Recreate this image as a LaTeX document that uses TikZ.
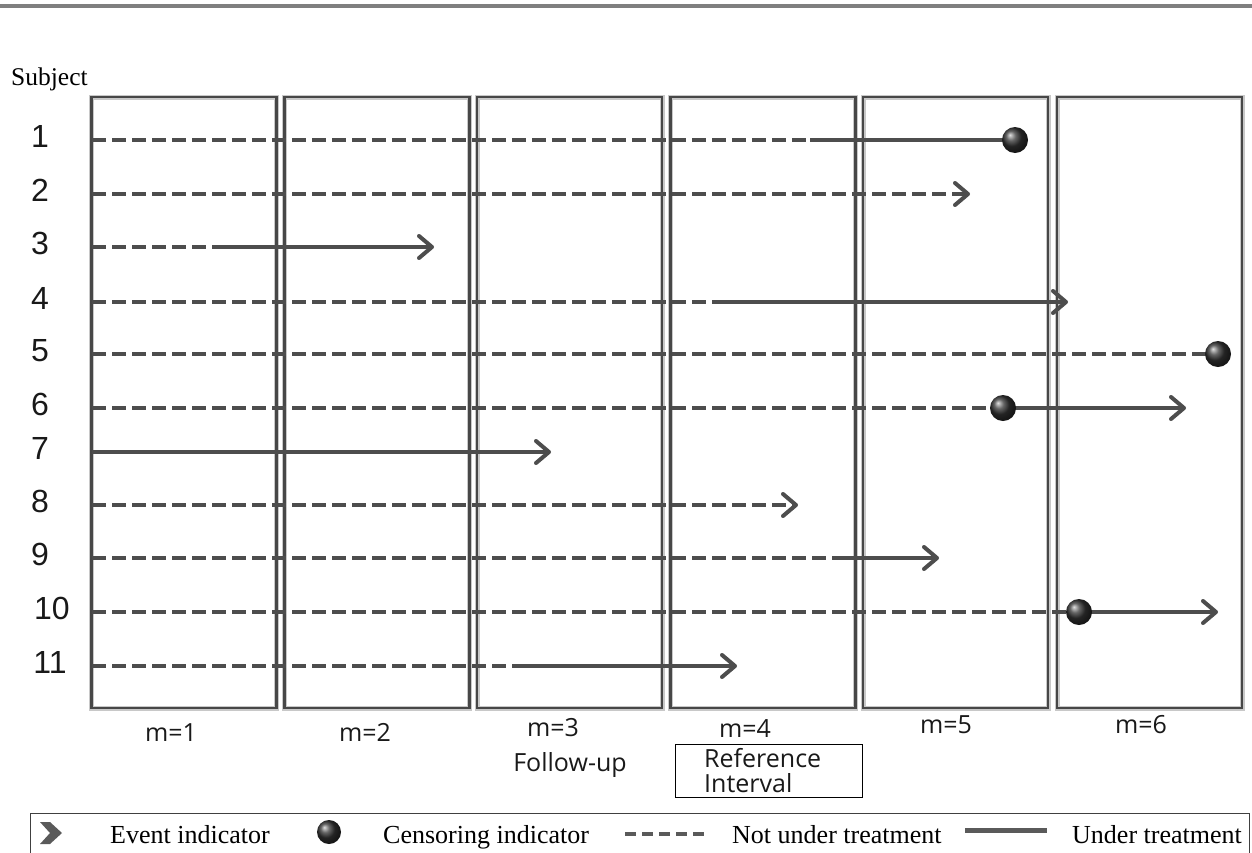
\documentclass[tikz,border=0pt]{standalone}
\usepackage{fontspec}
\setmainfont{Liberation Serif}
\newfontfamily\numfont{Liberation Sans}
\newfontfamily\lblfont{Open Sans}
\usetikzlibrary{arrows.meta}
\definecolor{linec}{HTML}{4D4D4D}
\definecolor{panelc}{HTML}{474747}
\definecolor{haloc}{HTML}{C8C8C8}
\definecolor{topbar}{HTML}{7F7F7F}
\definecolor{legc}{HTML}{5A5A5A}
\begin{document}
\begin{tikzpicture}[x=1pt,y=-1pt,
  panelbox/.style={draw=panelc, line width=2.5pt, preaction={draw=haloc, line width=5pt},
    minimum width=185pt, minimum height=611pt, inner sep=0pt},
  notx/.style={draw=linec, line width=4pt, dash pattern=on 14pt off 6pt},
  undertx/.style={draw=linec, line width=4pt},
  evt/.style={-{Straight Barb[length=13pt,width=22pt,round]}},
  ball/.style={circle, minimum size=26pt, inner sep=0pt, shading=ball, ball color=black!80},
  rownum/.style={font=\numfont\fontsize{32}{32}\selectfont, anchor=base, inner sep=0pt, text=black!90},
  mlabel/.style={font=\lblfont\fontsize{25}{25}\selectfont, anchor=base, inner sep=0pt, text=black!90},
  legtext/.style={font=\fontsize{26}{26}\selectfont, anchor=base west, inner sep=0pt},
]
\useasboundingbox (0,0) rectangle (1252,852);
\fill[topbar] (0,4) rectangle (1252,8);

% subject heading
\node[font=\fontsize{25.5}{25.5}\selectfont, anchor=base west, inner sep=0pt] (subj) at (11,85) {Subject};

% panels
\node[panelbox] (p1) at (184,402.5) {};
\node[panelbox] (p2) at (377,402.5) {};
\node[panelbox] (p3) at (569.5,402.5) {};
\node[panelbox] (p4) at (763,402.5) {};
\node[panelbox] (p5) at (955.5,402.5) {};
\node[panelbox] (p6) at (1149.5,402.5) {};

% row numbers
\node[rownum] (n1) at (40,147) {1};
\node[rownum] (n2) at (40,201) {2};
\node[rownum] (n3) at (40,254) {3};
\node[rownum] (n4) at (40,309) {4};
\node[rownum] (n5) at (40,361) {5};
\node[rownum] (n6) at (40,415) {6};
\node[rownum] (n7) at (40,459) {7};
\node[rownum] (n8) at (40,512) {8};
\node[rownum] (n9) at (40,565) {9};
\node[rownum] (n10) at (52,619) {10};
\node[rownum] (n11) at (50,673) {11};

% row coordinates
\coordinate (a1) at (92,140);  \coordinate (b1) at (810,140); \coordinate (c1p) at (1015,140);
\coordinate (a2) at (92,194);  \coordinate (e2) at (970,194);
\coordinate (a3) at (92,247);  \coordinate (b3) at (222,247); \coordinate (e3) at (434,247);
\coordinate (a4) at (92,302);  \coordinate (b4) at (725,302); \coordinate (e4) at (1068,302);
\coordinate (a5) at (92,354);  \coordinate (c5p) at (1218,354);
\coordinate (a6) at (92,408);  \coordinate (c6p) at (1003,408); \coordinate (e6) at (1186,408);
\coordinate (a7) at (92,452);  \coordinate (e7) at (551,452);
\coordinate (a8) at (92,505);  \coordinate (e8) at (798,505);
\coordinate (a9) at (92,558);  \coordinate (b9) at (833,558); \coordinate (e9) at (939,558);
\coordinate (a10) at (92,612); \coordinate (c10p) at (1079,612); \coordinate (e10) at (1218,612);
\coordinate (a11) at (92,666); \coordinate (b11) at (522,666); \coordinate (e11) at (737,666);

% subject lines
\draw[notx] (a1) -- (b1);
\draw[undertx] (b1) -- (c1p);
\draw[notx, evt] (a2) -- (e2);
\draw[notx] (a3) -- (b3);
\draw[undertx, evt] (b3) -- (e3);
\draw[notx] (a4) -- (b4);
\draw[undertx, evt] (b4) -- (e4);
\draw[notx] (a5) -- (c5p);
\draw[notx] (a6) -- (c6p);
\draw[undertx, evt] (c6p) -- (e6);
\draw[undertx, evt] (a7) -- (e7);
\draw[notx, evt] (a8) -- (e8);
\draw[notx] (a9) -- (b9);
\draw[undertx, evt] (b9) -- (e9);
\draw[notx] (a10) -- (c10p);
\draw[undertx, evt] (c10p) -- (e10);
\draw[notx] (a11) -- (b11);
\draw[undertx, evt] (b11) -- (e11);

% censoring balls
\node[ball] (c1) at (c1p) {};
\node[ball] (c5) at (c5p) {};
\node[ball] (c6) at (c6p) {};
\node[ball] (c10) at (c10p) {};

% interval labels
\node[mlabel] (m1) at (171,741) {m=1};
\node[mlabel] (m2) at (365,741) {m=2};
\node[mlabel] (m3) at (553,736) {m=3};
\node[mlabel] (m4) at (745,737) {m=4};
\node[mlabel] (m5) at (946,733) {m=5};
\node[mlabel] (m6) at (1141,733) {m=6};
\node[mlabel] (fu) at (570,771) {Follow-up};

\node[draw=black, line width=1.1pt, anchor=north west, minimum width=187pt, minimum height=53pt, inner sep=0pt] (refbox) at (675,744) {};
\node[mlabel, anchor=base west] (ref1) at (704,767) {Reference};
\node[mlabel, anchor=base west] (ref2) at (704,792) {Interval};

% legend
\node[draw=black!75, line width=1.2pt, anchor=north west, minimum width=1219pt, minimum height=60pt, inner sep=0pt] (legend) at (30,813) {};
\fill[legc] (40,822) -- (50,822) -- (62,833) -- (50,844) -- (40,844) -- (50,833) -- cycle;
\node[legtext] (l1) at (110,843) {Event indicator};
\node[ball, minimum size=24pt] (lb) at (329,832) {};
\node[legtext] (l2) at (383,843) {Censoring indicator};
\coordinate (ld1) at (625,834); \coordinate (ld2) at (708,834);
\draw[draw=legc, line width=4pt, dash pattern=on 11pt off 6pt] (ld1) -- (ld2);
\node[legtext] (l3) at (732,843) {Not under treatment};
\coordinate (ls1) at (965,830); \coordinate (ls2) at (1047,830);
\draw[draw=legc, line width=5pt] (ls1) -- (ls2);
\node[legtext] (l4) at (1072,843) {Under treatment};
\end{tikzpicture}
\end{document}
